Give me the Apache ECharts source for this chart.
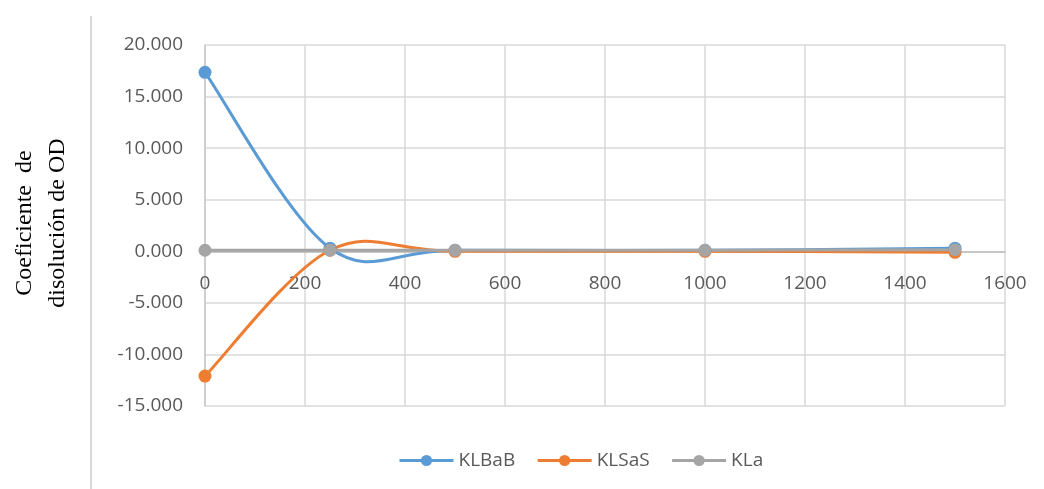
<!DOCTYPE html>
<html>
<head>
<meta charset="utf-8">
<script src="https://cdn.jsdelivr.net/npm/echarts@6/dist/echarts.min.js"></script>
<style>
  html, body { margin: 0; padding: 0; background: #fff; }
  #chart { width: 1044px; height: 489px; }
</style>
</head>
<body>
<div id="chart"></div>
<script>
'use strict';
// datos
const xValues = [0, 250, 500, 1000, 1500];
const klbab = [17.35, 0.3, 0.1, 0.1, 0.3];
const klsas = [-12.1, 0.1, 0.0, 0.0, -0.1];
const kla = [0.1, 0.1, 0.1, 0.1, 0.15];
const seriesNames = ['KLBaB', 'KLSaS', 'KLa'];
const colors = ['#5B9BD5', '#ED7D31', '#A5A5A5'];
const yMin = -15;

const pairs = (ys) => xValues.map((x, i) => [x, ys[i]]);
const clampIdx = (k) => Math.max(0, Math.min(xValues.length - 1, k));

// marcadores + leyenda
const genMarkers = (name, ys, color) => ({
    name: name,
    type: 'line',
    data: pairs(ys),
    symbol: 'circle',
    symbolSize: 13,
    lineStyle: { color: color, width: 3, opacity: 0 },
    itemStyle: { color: color },
    z: 4
});

// curva suavizada tipo Excel (bezier con tangentes de vecinos / 6)
const genCurve = (name, ys, color, z) => ({
    name: name,
    type: 'custom',
    data: pairs(ys),
    silent: true,
    z: z,
    renderItem: (params, api) => {
        const i = params.dataIndex;
        if (i >= xValues.length - 1) return;
        const p = (k) => api.coord([xValues[clampIdx(k)], ys[clampIdx(k)]]);
        const p0 = p(i - 1), p1 = p(i), p2 = p(i + 1), p3 = p(i + 2);
        return {
            type: 'bezierCurve',
            shape: {
                x1: p1[0], y1: p1[1],
                x2: p2[0], y2: p2[1],
                cpx1: p1[0] + (p2[0] - p0[0]) / 6,
                cpy1: p1[1] + (p2[1] - p0[1]) / 6,
                cpx2: p2[0] - (p3[0] - p1[0]) / 6,
                cpy2: p2[1] - (p3[1] - p1[1]) / 6
            },
            style: { stroke: color, lineWidth: 3, fill: null }
        };
    }
});

const axisFont = { color: '#595959', fontSize: 19, fontFamily: 'Open Sans' };

const chart = echarts.init(document.getElementById('chart'));
chart.setOption({
    animation: false,
    color: colors,
    grid: { left: 205, right: 39, top: 45, bottom: 83 },
    legend: {
        bottom: 14,
        left: 393,
        itemWidth: 54,
        itemHeight: 14,
        itemGap: 21,
        textStyle: { color: '#595959', fontSize: 19, fontFamily: 'Open Sans' },
        data: seriesNames.map((n, i) => ({
            name: n,
            itemStyle: { color: colors[i] },
            lineStyle: { color: colors[i], width: 3, opacity: 1 }
        }))
    },
    xAxis: {
        type: 'value',
        min: 0,
        max: 1600,
        interval: 200,
        axisLine: { onZero: false, lineStyle: { color: '#bfbfbf', width: 1.5 } },
        axisTick: { show: false },
        axisLabel: Object.assign({ margin: 23, formatter: (v) => String(v) }, axisFont),
        splitLine: { lineStyle: { color: '#d9d9d9', width: 1.5 } }
    },
    yAxis: {
        type: 'value',
        min: yMin,
        max: 20,
        interval: 5,
        axisLine: { show: true, onZero: false, lineStyle: { color: '#c8c8c8', width: 1.5 } },
        axisTick: { show: false },
        axisLabel: Object.assign({ margin: 22, formatter: (v) => v.toFixed(3) }, axisFont),
        splitLine: { lineStyle: { color: '#d9d9d9', width: 1.5 } }
    },
    graphic: [
        {
            type: 'line',
            shape: { x1: 91, y1: 16, x2: 91, y2: 489 },
            style: { stroke: '#d9d9d9', lineWidth: 2 }
        },
        {
            type: 'text',
            x: 41,
            y: 223,
            rotation: Math.PI / 2,
            style: {
                text: 'Coeficiente  de\ndisolución de OD',
                font: '24px "Liberation Serif"',
                fill: '#000',
                align: 'center',
                verticalAlign: 'middle',
                lineHeight: 33
            }
        }
    ],
    series: [
        genMarkers(seriesNames[0], klbab, colors[0]),
        genMarkers(seriesNames[1], klsas, colors[1]),
        genMarkers(seriesNames[2], kla, colors[2]),
        genCurve(seriesNames[0], klbab, colors[0], 2),
        genCurve(seriesNames[1], klsas, colors[1], 2),
        genCurve(seriesNames[2], kla, colors[2], 3)
    ]
});

// eje X cruzando en y = 0
const zeroY = chart.convertToPixel({ yAxisIndex: 0 }, 0);
const bottomY = chart.convertToPixel({ yAxisIndex: 0 }, yMin);
chart.setOption({ xAxis: { offset: zeroY - bottomY } });
</script>
</body>
</html>
